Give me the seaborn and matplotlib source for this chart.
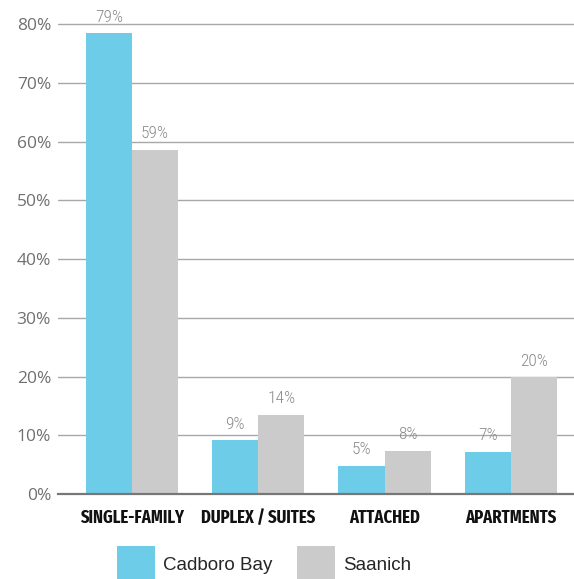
import matplotlib
matplotlib.use("Agg")
import matplotlib.pyplot as plt
from matplotlib import font_manager as fm
import seaborn as sns
import pandas as pd

categories = ["SINGLE-FAMILY", "DUPLEX / SUITES", "ATTACHED", "APARTMENTS"]
series_names = ["Cadboro Bay", "Saanich"]
cadboro = [78.5, 9.2, 4.8, 7.2]
saanich = [58.6, 13.5, 7.4, 19.9]
cadboro_labels = ["79%", "9%", "5%", "7%"]
saanich_labels = ["59%", "14%", "8%", "20%"]
ytick_vals = [0, 10, 20, 30, 40, 50, 60, 70, 80]

available = {f.name for f in fm.fontManager.ttflist}


def pick(cands, default):
    for c in cands:
        if c in available:
            return c
    return default


cond_font = pick(["Fira Sans Extra Condensed", "Barlow Condensed", "Roboto Condensed",
                  "Fira Sans Condensed", "PT Sans Narrow", "Archivo Narrow",
                  "Open Sans Condensed", "Liberation Sans Narrow"], "DejaVu Sans")
light_cond_font = pick(["Roboto Condensed", "Fira Sans Extra Condensed", "Fira Sans Condensed",
                        "PT Sans Narrow", "Archivo Narrow", "Liberation Sans Narrow"], "DejaVu Sans")

df = pd.DataFrame({
    "cat": categories * 2,
    "series": [series_names[0]] * 4 + [series_names[1]] * 4,
    "val": cadboro + saanich,
})

sns.set_theme(style="white")
fig = plt.figure(figsize=(5.74, 5.79), dpi=100)
ax = fig.add_axes([58 / 574, 85 / 579, 1 - 58 / 574, 494 / 579])

palette = {"Cadboro Bay": "#6dcde9", "Saanich": "#cbcbcb"}
sns.barplot(data=df, x="cat", y="val", hue="series", palette=palette,
            width=0.73, gap=0, ax=ax, saturation=1, edgecolor="none", linewidth=0)

ax.set_ylim(0, 84.1)
ax.set_xlim(-0.586, 3.5)
ax.set_yticks(ytick_vals)
ax.set_yticklabels([f"{v}%" for v in ytick_vals], color="#707070",
                   fontsize=12.5, family="Open Sans")
ax.tick_params(axis="y", length=0, pad=5)
ax.tick_params(axis="x", length=0, pad=11)

fig.canvas.draw()
renderer = fig.canvas.get_renderer()
xlabels = ax.get_xticklabels()
for lbl in xlabels:
    lbl.set_family(cond_font)
    lbl.set_fontweight("bold")
    lbl.set_fontsize(13)
    lbl.set_color("#111111")
# scale category labels so "SINGLE-FAMILY" is ~104 px wide
w = xlabels[0].get_window_extent(renderer).width
if w > 0:
    fs = 13 * 104 / w
    fs = max(9, min(fs, 15.5))
    for lbl in xlabels:
        lbl.set_fontsize(fs)

ax.set_xlabel("")
ax.set_ylabel("")
ax.set_axisbelow(True)
ax.yaxis.grid(True, color="#a8a8a8", linewidth=1)
for tick_gl in ax.get_ygridlines()[:1]:
    tick_gl.set_visible(False)
for s in ["top", "right", "left"]:
    ax.spines[s].set_visible(False)
ax.spines["bottom"].set_color("#777777")
ax.spines["bottom"].set_linewidth(1.6)

# value labels, sized so "79%" is ~28 px wide
probe = ax.text(0, 0, "79%", fontsize=12, family=light_cond_font, fontweight="light")
pw = probe.get_window_extent(renderer).width
probe.remove()
vfs = 12 * 28 / pw if pw > 0 else 13
vfs = max(10, min(vfs, 15))
for cont, labs in zip(ax.containers, [cadboro_labels, saanich_labels]):
    ax.bar_label(cont, labels=labs, padding=6, color="#8a8a8a", fontsize=vfs,
                 family=light_cond_font, fontweight="light")

handles, labels = ax.get_legend_handles_labels()
ax.legend_.remove()
fig.legend(handles, labels, loc="upper left",
           bbox_to_anchor=(108 / 574, (579 - 537) / 579),
           ncol=2, frameon=False, handlelength=2.0, handleheight=2.6,
           handletextpad=0.45, columnspacing=1.3, borderpad=0,
           prop={"family": "Liberation Sans", "size": 13.5})

fig.savefig("out.png", dpi=100)
